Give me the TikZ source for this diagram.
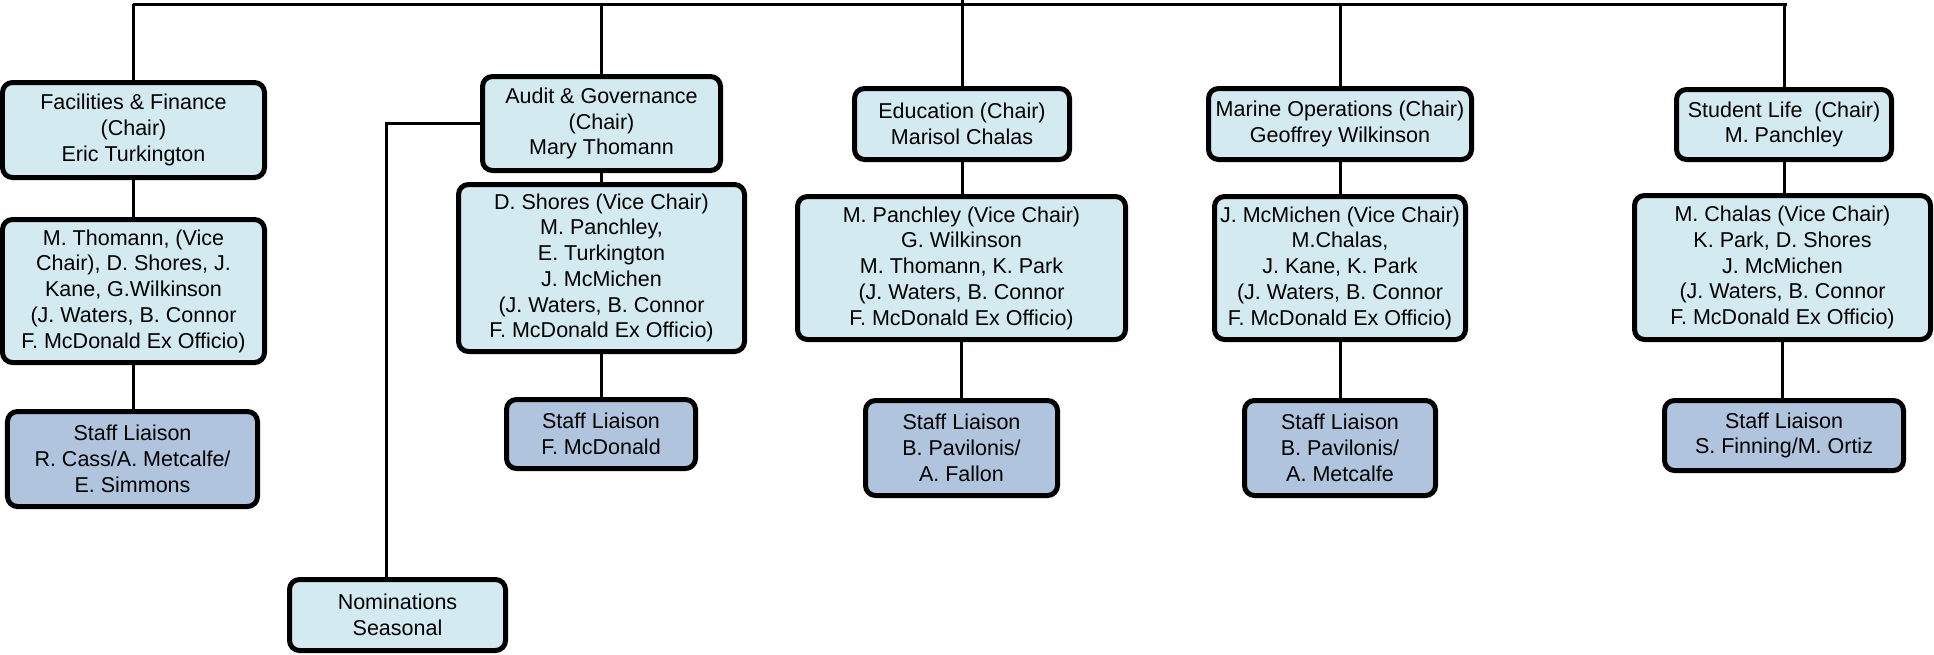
\documentclass[tikz,border=0pt]{standalone}
\usepackage{fontspec}
\setmainfont{Liberation Sans}
\definecolor{boardblue}{RGB}{211,234,240}
\definecolor{liaisonblue}{RGB}{176,196,222}
\usepackage{tikz}
\tikzset{every picture/.style={line width=1.2pt}}
\tikzset{
  cbox/.style={draw, rounded corners=4pt, line width=2pt, fill=boardblue, align=center, inner sep=0pt, font=\fontsize{8.6}{10.3}\selectfont},
  lbox/.style={cbox, fill=liaisonblue}
}

\begin{document}
\begin{tikzpicture}[x=0.4pt,y=0.4pt,yscale=-1]
\useasboundingbox (0,0) rectangle (1934,654);

%Shape: Chair boxes
\node [cbox, minimum width=104.8pt, minimum height=38pt] (finchair) at (133.5,130) {Facilities \& Finance\\(Chair)\\Eric Turkington};
\node [cbox, minimum width=95.2pt, minimum height=37.6pt] (audchair) at (601.5,123.5) {Audit \& Governance\\(Chair)\\Mary Thomann};
\node [cbox, minimum width=86pt, minimum height=28.4pt] (educhair) at (962,124) {Education (Chair)\\Marisol Chalas};
\node [cbox, minimum width=105.2pt, minimum height=28.4pt] (marchair) at (1340,124) {Marine Operations (Chair)\\Geoffrey Wilkinson};
\node [cbox, minimum width=86pt, minimum height=28pt] (stuchair) at (1784,124.5) {Student Life~ (Chair)\\M. Panchley};

%Shape: Member boxes
\node [cbox, minimum width=104.8pt, minimum height=57.2pt] (finmem) at (133.5,291) {M. Thomann, (Vice\\Chair), D. Shores, J.\\Kane, G.Wilkinson\\(J. Waters, B. Connor\\F. McDonald Ex Officio)};
\node [cbox, minimum width=114.4pt, minimum height=66.8pt] (audmem) at (601.5,268) {D. Shores (Vice Chair)\\M. Panchley,\\E. Turkington\\J. McMichen\\(J. Waters, B. Connor\\F. McDonald Ex Officio)};
\node [cbox, minimum width=131.2pt, minimum height=57.2pt] (edumem) at (961.5,268) {M. Panchley (Vice Chair)\\G. Wilkinson\\M. Thomann, K. Park\\(J. Waters, B. Connor\\F. McDonald Ex Officio)};
\node [cbox, minimum width=100.4pt, minimum height=57.2pt] (marmem) at (1340,268) {J. McMichen (Vice Chair)\\M.Chalas,\\J. Kane, K. Park\\(J. Waters, B. Connor\\F. McDonald Ex Officio)};
\node [cbox, minimum width=118.4pt, minimum height=57.6pt] (stumem) at (1782.5,267.5) {M. Chalas (Vice Chair)\\K. Park, D. Shores\\J. McMichen\\(J. Waters, B. Connor\\F. McDonald Ex Officio)};

%Shape: Staff liaison boxes
\node [lbox, minimum width=100pt, minimum height=38pt] (finstaff) at (132.5,459) {Staff Liaison\\R. Cass/A. Metcalfe/\\E. Simmons};
\node [lbox, minimum width=75.6pt, minimum height=27.6pt] (audstaff) at (601,434) {Staff Liaison\\F. McDonald};
\node [lbox, minimum width=76.8pt, minimum height=38pt] (edustaff) at (961.5,448) {Staff Liaison\\B. Pavilonis/\\A. Fallon};
\node [lbox, minimum width=76.4pt, minimum height=38pt] (marstaff) at (1340,448) {Staff Liaison\\B. Pavilonis/\\A. Metcalfe};
\node [lbox, minimum width=95.6pt, minimum height=28pt] (stustaff) at (1784,435.5) {Staff Liaison\\S. Finning/M. Ortiz};

%Shape: Nominations
\node [cbox, minimum width=86.4pt, minimum height=28.4pt] (nom) at (397.5,615) {Nominations\\Seasonal};

%Straight Lines: top bar
\coordinate (root) at (962,0);
\coordinate (barL) at (133,4);
\coordinate (barR) at (1787,4);
\draw (barL) -- (barR);
\draw (root) -- (educhair.north);
\draw (finchair.north) -- (finchair.north |- barL);
\draw (audchair.north) -- (audchair.north |- barL);
\draw (marchair.north) -- (marchair.north |- barL);
\draw (stuchair.north) -- (stuchair.north |- barL);

%Straight Lines: columns
\draw (finchair.south) -- (finchair.south |- finmem.north);
\draw (finmem.south) -- (finmem.south |- finstaff.north);
\draw (audchair.south) -- (audchair.south |- audmem.north);
\draw (audmem.south) -- (audmem.south |- audstaff.north);
\draw (educhair.south) -- (educhair.south |- edumem.north);
\draw (edumem.south) -- (edumem.south |- edustaff.north);
\draw (marchair.south) -- (marchair.south |- marmem.north);
\draw (marmem.south) -- (marmem.south |- marstaff.north);
\draw (stuchair.south) -- (stuchair.south |- stumem.north);
\draw (stumem.south) -- (stumem.south |- stustaff.north);

%Straight Lines: nominations
\draw (audchair.west) -| ([xshift=-4.6pt]nom.north);
\end{tikzpicture}
\end{document}
